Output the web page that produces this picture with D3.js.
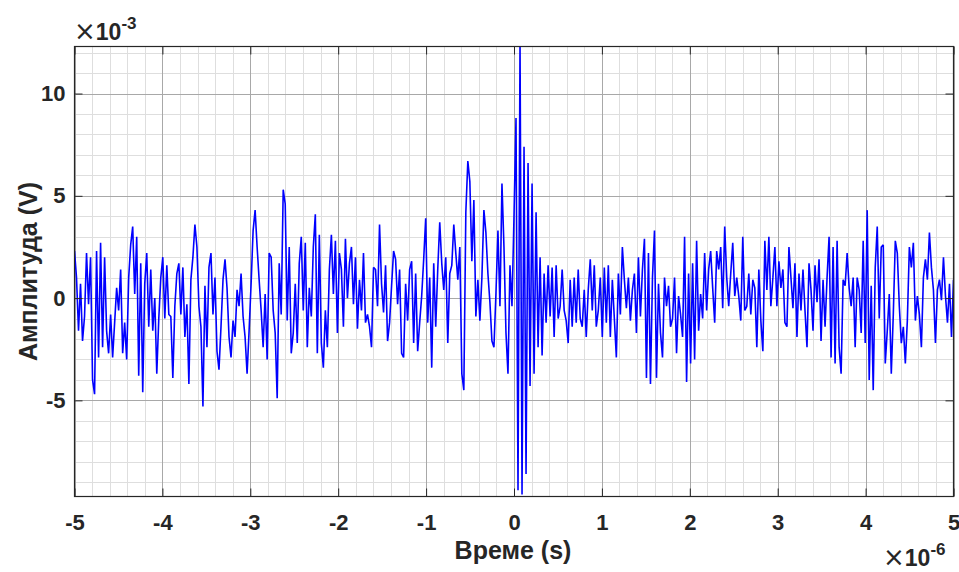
<!DOCTYPE html>
<html>
<head>
<meta charset="utf-8">
<script src="https://cdn.jsdelivr.net/npm/d3@7"></script>
<style>
	body { margin: 0; background: #fff; }
	svg { display: block; font-family: "Liberation Sans", Arial, sans-serif; }
</style>
</head>
<body>
<script>
// Time span of the record (µs) and amplitude samples (mV), evenly spaced
const timeRange = [-5, 5];
const amplitude = [
	// -5.0 .. -4.0
	2.3, 1.0, -1.6, 0.7, -2.1, -0.9, 2.2, -0.3, 2.0, -4.0, -4.7, 2.3, -2.9, 2.7, -2.4, 2.0,
	-1.6, -2.7, -0.8, -2.9, -1.2, 0.5, -0.6, 1.4, -2.7, -1.2, -3.0, 1.0, 2.6, 3.5, 0.2, 3.0,
	-3.8, 1.7, -4.6, 0.7, 2.2, -1.4, 1.4, -1.6, 0.0, -3.7, -1.0, 1.0, 2.0, -1.0,
	// -4.0 .. -2.8
	1.6, -0.8, -0.9, -3.9, -0.4, 1.2, 1.7, -0.8, 1.5, -1.9, -0.3, -4.2, 0.9, 2.0, 3.6, 2.5,
	-0.4, -1.4, -5.3, 0.6, -2.4, 1.5, 2.2, -0.8, 1.0, -2.6, -3.5, -1.4, 0.9, 1.9, 0.5, -1.9,
	-2.9, -1.1, -1.9, 0.4, -0.4, 1.2, -0.9, -1.9, -3.7, -1.6, 0.7, 3.3, 4.3, 2.5, 0.9, -0.6,
	-2.4, 0.2, -3.0, 2.2,
	// -2.8 .. -1.6
	2.0, -0.6, -1.7, -4.9, 1.7, -0.8, 5.3, 4.6, -1.1, 2.5, -2.7, -1.7, 0.7, -2.2, 1.7, 3.0,
	-0.6, 2.7, -2.4, 0.5, -0.9, 2.5, 4.1, -2.7, 3.1, -2.2, -3.4, -0.6, -2.4, 1.4, 3.1, 0.2,
	2.8, -1.7, 2.2, 1.4, -1.4, 2.9, 0.0, 1.7, 2.5, -0.3, 2.0, -1.5, 0.9, -0.6, 2.2, -1.2,
	-0.8, -1.4, -2.4, 1.5,
	// -1.6 .. -0.4
	1.4, -0.4, 3.6, 0.7, -0.7, 1.6, -2.1, -1.2, 0.6, 2.3, 1.9, -0.3, 1.4, -2.7, -2.9, 0.7,
	-1.1, 1.4, 1.8, -2.2, 1.2, -2.6, -1.2, 0.1, 1.9, 3.9, -1.2, 1.0, -3.4, 1.7, -1.4, 1.4,
	3.7, 1.7, 0.4, 2.0, -2.2, 1.2, 1.6, 3.6, 2.2, 0.9, 2.5, -3.7, -4.5, 4.2, 6.7, 5.7,
	1.8, 4.8, -0.9, 0.9, -1.1,
	// -0.4 .. 0.45 (burst)
	1.0, 4.3, 3.2, 1.2, -0.2, -2.1, -2.4, 0.2, 3.3, -0.4, 5.6, 2.5, -1.7, -3.7, 1.6, -0.4,
	4.0, 8.8, -9.4, 12.6, -9.6, 7.4, -8.6, 6.6, -4.3, 5.6, -3.7, 4.2, -2.4, 2.0, -2.8, 1.2,
	-1.2, 1.6, -0.9, 1.5, -1.9, 1.6, -1.0,
	// 0.45 .. 1.6
	-0.4, 1.4, -0.6, -1.1, -2.2, 0.9, -1.4, 1.0, -1.2, 1.4, -1.0, -1.4, 0.4, -1.9, 0.4, 1.9,
	-0.6, 1.6, -1.4, -0.6, 1.0, -1.9, 1.5, -1.2, 1.6, -1.9, 0.9, -1.0, -2.9, 1.2, -0.8, 2.5,
	0.9, -0.5, 1.0, -1.1, 0.4, 1.2, -1.7, 2.0, -0.9, 1.4, 2.9, -3.9, 2.2, -4.2, 1.0, 3.3,
	-3.9, 0.7, -1.7,
	// 1.6 .. 2.8
	-2.9, 1.0, -0.4, 0.6, -1.4, -1.0, 1.0, -2.7, 0.1, -0.8, -1.9, 3.0, -4.1, 1.2, -3.2, 1.7,
	-3.0, 2.8, -1.6, 0.2, -1.0, 2.2, -0.6, 1.4, 2.3, 0.5, -1.2, 2.3, 1.4, 2.5, -0.5, 3.5,
	1.0, -0.4, 1.2, 2.7, 0.1, 1.0, 0.1, -1.1, 3.0, -0.6, -0.4, 1.2, -0.8, 0.9, 0.5, -2.4,
	1.4, -1.1, -2.6, 2.8, 0.4,
	// 2.8 .. 3.9
	3.0, -0.4, 1.0, 2.5, -0.4, 1.8, 0.5, 1.4, -1.2, -1.4, 2.5, 1.0, -0.5, 1.7, -1.9, 1.2,
	-0.6, 1.4, -0.6, -2.4, 1.7, 0.4, -1.6, 1.6, -0.2, 1.9, -2.1, 0.9, -1.4, 1.0, 3.0, -2.9,
	2.5, -3.2, 2.8, -2.4, -3.7, 0.9, 0.6, 2.2, 0.5, -0.4, 1.0, -2.4, 1.0, 0.4, -1.7, 2.8,
	// 3.9 .. 5.0
	-2.2, 4.3, -4.0, 0.6, -4.5, 1.5, 3.5, -1.0, 2.5, 2.6, -3.2, -1.6, 0.2, -3.7, -0.8, 2.8,
	2.2, -0.4, -2.2, -1.4, -3.2, -1.1, 2.5, 1.5, 2.7, -1.1, 0.1, -0.8, -2.4, 1.0, 1.9, 0.9,
	3.2, 1.5, 0.4, -2.2, 0.4, 0.9, -0.1, 2.0, 0.1, -1.2, 0.7, -1.9, 0.9
];

// Axis ticks
const xTickValues = [-5, -4, -3, -2, -1, 0, 1, 2, 3, 4, 5];
const yTickValues = [-5, 0, 5, 10];
const xLimits = [-5, 5];
const yLimits = [-9.7, 12.3];

const svgW = 959, svgH = 572;
const plot = { left: 74.5, top: 46.5, width: 879, height: 450 };

const svg = d3.select('body')
	.append('svg')
	.attr('width', svgW)
	.attr('height', svgH);

const xScale = d3.scaleLinear().domain(xLimits).range([plot.left, plot.left + plot.width]);
const yScale = d3.scaleLinear().domain(yLimits).range([plot.top + plot.height, plot.top]);

// Grid: minor first, then major
const minorX = d3.range(-5, 5.0001, 0.2).filter(v => !xTickValues.some(t => Math.abs(t - v) < 1e-6));
const minorY = d3.range(-9, 12.5, 1).filter(v => !yTickValues.includes(v));

const grid = svg.append('g').attr('class', 'grid');
grid.selectAll('.minor-x')
	.data(minorX)
	.enter().append('line')
	.attr('x1', d => Math.round(xScale(d)) + 0.5)
	.attr('x2', d => Math.round(xScale(d)) + 0.5)
	.attr('y1', plot.top)
	.attr('y2', plot.top + plot.height)
	.attr('stroke', '#dedede');
grid.selectAll('.minor-y')
	.data(minorY)
	.enter().append('line')
	.attr('y1', d => Math.round(yScale(d)) + 0.5)
	.attr('y2', d => Math.round(yScale(d)) + 0.5)
	.attr('x1', plot.left)
	.attr('x2', plot.left + plot.width)
	.attr('stroke', '#dedede');
grid.selectAll('.major-x')
	.data(xTickValues)
	.enter().append('line')
	.attr('x1', d => Math.round(xScale(d)) + 0.5)
	.attr('x2', d => Math.round(xScale(d)) + 0.5)
	.attr('y1', plot.top)
	.attr('y2', plot.top + plot.height)
	.attr('stroke', '#a8a8a8');
grid.selectAll('.major-y')
	.data(yTickValues)
	.enter().append('line')
	.attr('y1', d => Math.round(yScale(d)) + 0.5)
	.attr('y2', d => Math.round(yScale(d)) + 0.5)
	.attr('x1', plot.left)
	.attr('x2', plot.left + plot.width)
	.attr('stroke', '#a8a8a8');

// Signal
svg.append('clipPath')
	.attr('id', 'plot-clip')
	.append('rect')
	.attr('x', plot.left)
	.attr('y', plot.top)
	.attr('width', plot.width)
	.attr('height', plot.height);

const step = (timeRange[1] - timeRange[0]) / (amplitude.length - 1);
const line = d3.line()
	.x((d, i) => xScale(timeRange[0] + i * step))
	.y(d => yScale(d));

svg.append('path')
	.datum(amplitude)
	.attr('clip-path', 'url(#plot-clip)')
	.attr('fill', 'none')
	.attr('stroke', '#0000ff')
	.attr('stroke-width', 1.6)
	.attr('stroke-linejoin', 'bevel')
	.attr('d', line);

// Axes (ticks pointing inward, box on all sides)
const tickLen = 8;
const plainNum = d => String(d);
const axisStyle = g => {
	g.select('.domain').remove();
	g.selectAll('.tick line').attr('stroke', '#262626');
	g.selectAll('.tick text')
		.attr('fill', '#262626')
		.style('font-size', '22px')
		.style('font-weight', 'bold');
};

svg.append('g')
	.attr('transform', `translate(0, ${plot.top + plot.height})`)
	.call(d3.axisBottom(xScale).tickValues(xTickValues).tickSizeInner(-tickLen).tickSizeOuter(0).tickPadding(18).tickFormat(plainNum))
	.call(axisStyle);
svg.append('g')
	.attr('transform', `translate(0, ${plot.top})`)
	.call(d3.axisTop(xScale).tickValues(xTickValues).tickSizeInner(-tickLen).tickSizeOuter(0).tickFormat(''))
	.call(axisStyle);
svg.append('g')
	.attr('transform', `translate(${plot.left}, 0)`)
	.call(d3.axisLeft(yScale).tickValues(yTickValues).tickSizeInner(-tickLen).tickSizeOuter(0).tickPadding(9).tickFormat(plainNum))
	.call(axisStyle);
svg.append('g')
	.attr('transform', `translate(${plot.left + plot.width}, 0)`)
	.call(d3.axisRight(yScale).tickValues(yTickValues).tickSizeInner(-tickLen).tickSizeOuter(0).tickFormat(''))
	.call(axisStyle);

svg.append('rect')
	.attr('x', plot.left)
	.attr('y', plot.top)
	.attr('width', plot.width)
	.attr('height', plot.height)
	.attr('fill', 'none')
	.attr('stroke', '#262626')
	.attr('stroke-width', 1.2);

// Axis labels
svg.append('text')
	.attr('x', plot.left + plot.width / 2 - 1)
	.attr('y', 559)
	.attr('text-anchor', 'middle')
	.attr('fill', '#262626')
	.style('font-size', '25px')
	.style('font-weight', 'bold')
	.text('Време (s)');

svg.append('text')
	.attr('transform', `translate(37, ${plot.top + plot.height / 2}) rotate(-90)`)
	.attr('text-anchor', 'middle')
	.attr('fill', '#262626')
	.style('font-size', '25px')
	.style('font-weight', 'bold')
	.text('Амплитуда (V)');

// Exponent labels: one text, multiplication sign, bold base, raised exponent
function exponentLabel(x, y, exp) {
	const t = svg.append('text')
		.attr('x', x)
		.attr('y', y)
		.attr('fill', '#262626')
		.style('font-weight', 'bold');
	t.append('tspan').text('×')
		.style('font-family', '"DejaVu Sans", sans-serif')
		.style('font-weight', 'normal')
		.style('font-size', '26px');
	t.append('tspan').text('10')
		.style('font-size', '23px');
	t.append('tspan').text(exp)
		.attr('dy', -11)
		.style('font-size', '17px');
}
exponentLabel(74, 40, '-3');
exponentLabel(883, 566, '-6');
</script>
</body>
</html>
